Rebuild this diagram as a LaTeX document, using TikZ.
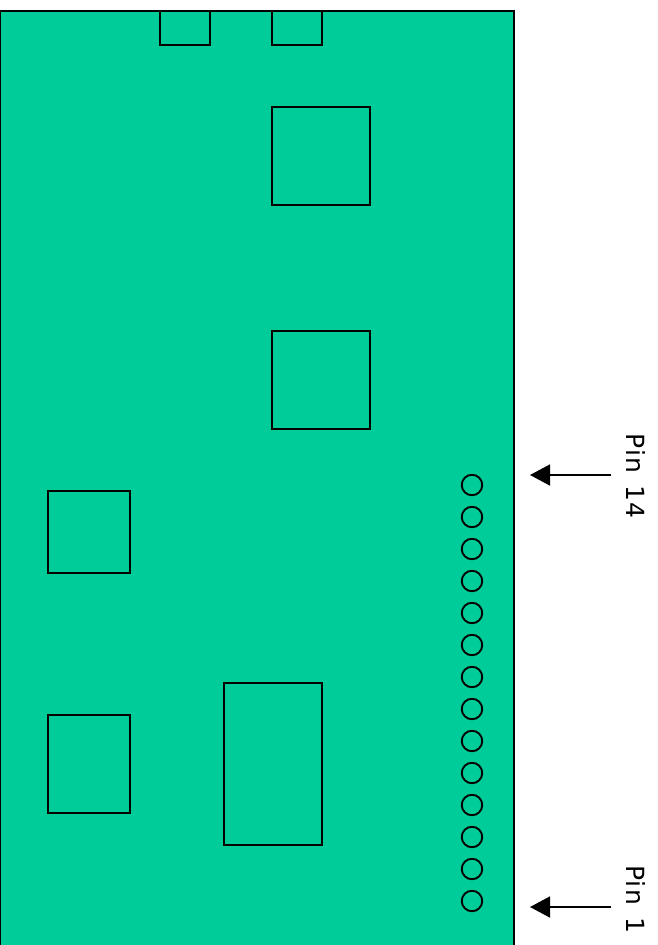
\documentclass[tikz,border=0pt]{standalone}
\usepackage{fontspec}
\setmainfont{DejaVu Sans}[LetterSpace=5]
\usetikzlibrary{arrows.meta}
\definecolor{board}{HTML}{00CC99}
\tikzset{
  part/.style={draw=black,line width=1.5pt},
  pinhole/.style={circle,draw=black,line width=1.9pt,minimum size=20.5pt,inner sep=0pt},
  pinlabel/.style={rotate=-90,anchor=center,inner sep=0pt,font=\fontsize{25}{25}\selectfont,text=black},
  pointer/.style={draw=black,line width=1.5pt,-{Triangle[length=20pt,width=21pt]},shorten >=0pt}
}
\begin{document}
\begin{tikzpicture}[x=1pt,y=-1pt]
\useasboundingbox (0,0) rectangle (657,945);
\begin{scope}
\clip (0,0) rectangle (657,945);
\draw[part,fill=board] (0,11) rectangle (514,960);
\draw[part] (160,11) rectangle (210,45);
\draw[part] (272,11) rectangle (322,45);
\draw[part] (272,107) rectangle (370,205);
\draw[part] (272,331) rectangle (370,429);
\draw[part] (48,491) rectangle (130,573);
\draw[part] (48,715) rectangle (130,813);
\draw[part] (224,683) rectangle (322,845);
\foreach \i in {0,...,13}{
  \node[pinhole] (h\i) at (472,{485+32*\i}) {};
}
\end{scope}
\coordinate (a14s) at (611,475);
\coordinate (a14e) at (530,475);
\coordinate (a1s) at (611,907);
\coordinate (a1e) at (530,907);
\draw[pointer] (a14s) -- (a14e);
\draw[pointer] (a1s) -- (a1e);
\node[pinlabel] (l14) at (636,476) {Pin\hspace{3pt} 14};
\node[pinlabel] (l1) at (636,899) {Pin\hspace{3pt} 1};
\end{tikzpicture}
\end{document}
